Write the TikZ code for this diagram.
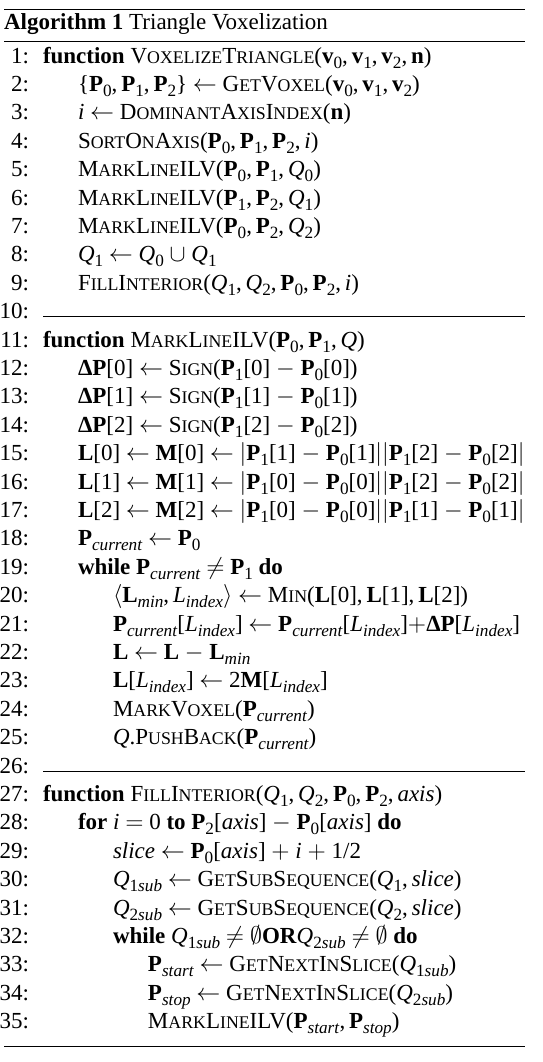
\documentclass[tikz,border=0pt]{standalone}
\usepackage{fontspec}
\setmainfont{Liberation Serif}
\newcommand\kw[1]{\textbf{#1}}
\newcommand\lc[1]{{\fontsize{8.9}{9}\selectfont #1}}
\newcommand\sbx[1]{\raisebox{-0.22em}{\fontsize{8.6}{8}\selectfont #1}}
\newcommand\BP[1]{\textbf{P}\sbx{#1}}
\newcommand\BPi[1]{\textbf{P}\sbx{\itshape #1\/}}
\newcommand\BV[1]{\textbf{v}\sbx{#1}}
\newcommand\Qs[1]{\textit{Q}\sbx{#1}}
\newcommand\Qi[1]{\textit{Q}\sbx{#1\itshape sub\/}}
\newcommand\cs{,\,}
\newcommand\la{ $\leftarrow$ }
\newcommand\mi{ $-$ }
\newcommand\Li{\textit{L}\sbx{\itshape index\/}}
\newcommand\MLI{M\lc{ARK}L\lc{INE}ILV}
\begin{document}
\begin{tikzpicture}[x=0.5pt,y=-0.5pt,
  every node/.style={inner sep=0pt,outer sep=0pt,font=\fontsize{11.5}{13.8}\selectfont},
  ln/.style={anchor=base east},
  code/.style={anchor=base west}]
\useasboundingbox (0,0) rectangle (542,1062);
% rules
\draw[line width=0.9pt] (4,9.5) -- (525,9.5);
\draw[line width=0.5pt] (4,41) -- (525,41);
\draw[line width=0.5pt] (4,1046) -- (525,1046);
\node[code] (title) at (4,29) {\textbf{Algorithm 1} Triangle Voxelization};
% line numbers
\foreach \n in {1,...,35}
  \node[ln] (n\n) at (29,{63+(\n-1)*28.4}) {\n:};
% separator rules
\draw[line width=0.5pt] (43,{63+9*28.4-2}) -- (525,{63+9*28.4-2});
\draw[line width=0.5pt] (43,{63+25*28.4-2}) -- (525,{63+25*28.4-2});
% code
\node[code] (c1) at (43,63) {\kw{function} V\lc{OXELIZE}T\lc{RIANGLE}(\BV{0}\cs\BV{1}\cs\BV{2}\cs\textbf{n})};
\node[code] (c2) at (78,91.4) {\{\BP{0}\cs\BP{1}\cs\BP{2}\}\la G\lc{ET}V\lc{OXEL}(\BV{0}\cs\BV{1}\cs\BV{2})};
\node[code] (c3) at (78,119.8) {\textit{i}\la D\lc{OMINANT}A\lc{XIS}I\lc{NDEX}(\textbf{n})};
\node[code] (c4) at (78,148.2) {S\lc{ORT}O\lc{N}A\lc{XIS}(\BP{0}\cs\BP{1}\cs\BP{2}\cs\textit{i})};
\node[code] (c5) at (78,176.6) {\MLI(\BP{0}\cs\BP{1}\cs\Qs{0})};
\node[code] (c6) at (78,205) {\MLI(\BP{1}\cs\BP{2}\cs\Qs{1})};
\node[code] (c7) at (78,233.4) {\MLI(\BP{0}\cs\BP{2}\cs\Qs{2})};
\node[code] (c8) at (78,261.8) {\Qs{1}\la\Qs{0} $\cup$ \Qs{1}};
\node[code] (c9) at (78,290.2) {F\lc{ILL}I\lc{NTERIOR}(\Qs{1}\cs\Qs{2}\cs\BP{0}\cs\BP{2}\cs\textit{i})};
\node[code] (c11) at (43,347) {\kw{function} \MLI(\BP{0}\cs\BP{1}\cs\textit{Q})};
\node[code] (c12) at (78,375.4) {\textbf{ΔP}[0]\la S\lc{IGN}(\BP{1}[0]\mi\BP{0}[0])};
\node[code] (c13) at (78,403.8) {\textbf{ΔP}[1]\la S\lc{IGN}(\BP{1}[1]\mi\BP{0}[1])};
\node[code] (c14) at (78,432.2) {\textbf{ΔP}[2]\la S\lc{IGN}(\BP{1}[2]\mi\BP{0}[2])};
\node[code] (c15) at (78,460.6) {\textbf{L}[0]\la\textbf{M}[0]\la$|$\BP{1}[1]\mi\BP{0}[1]$||$\BP{1}[2]\mi\BP{0}[2]$|$};
\node[code] (c16) at (78,489) {\textbf{L}[1]\la\textbf{M}[1]\la$|$\BP{1}[0]\mi\BP{0}[0]$||$\BP{1}[2]\mi\BP{0}[2]$|$};
\node[code] (c17) at (78,517.4) {\textbf{L}[2]\la\textbf{M}[2]\la$|$\BP{1}[0]\mi\BP{0}[0]$||$\BP{1}[1]\mi\BP{0}[1]$|$};
\node[code] (c18) at (78,545.8) {\BPi{current}\la\BP{0}};
\node[code] (c19) at (78,574.2) {\kw{while} \BPi{current} $\neq$ \BP{1} \kw{do}};
\node[code] (c20) at (113,602.6) {$\langle$\textbf{L}\sbx{\itshape min\/}\cs\Li$\rangle$\la M\lc{IN}(\textbf{L}[0]\cs\textbf{L}[1]\cs\textbf{L}[2])};
\node[code] (c21) at (113,631) {\BPi{current}[\Li]\la\BPi{current}[\Li]$+$\textbf{ΔP}[\Li]};
\node[code] (c22) at (113,659.4) {\textbf{L}\la\textbf{L}\mi\textbf{L}\sbx{\itshape min\/}};
\node[code] (c23) at (113,687.8) {\textbf{L}[\Li]\la 2\textbf{M}[\Li]};
\node[code] (c24) at (113,716.2) {M\lc{ARK}V\lc{OXEL}(\BPi{current})};
\node[code] (c25) at (113,744.6) {\textit{Q}.P\lc{USH}B\lc{ACK}(\BPi{current})};
\node[code] (c27) at (43,801.4) {\kw{function} F\lc{ILL}I\lc{NTERIOR}(\Qs{1}\cs\Qs{2}\cs\BP{0}\cs\BP{2}\cs\textit{axis\/})};
\node[code] (c28) at (78,829.8) {\kw{for} \textit{i} $=$ 0 \kw{to} \BP{2}[\textit{axis\/}]\mi\BP{0}[\textit{axis\/}] \kw{do}};
\node[code] (c29) at (113,858.2) {\textit{slice}\la\BP{0}[\textit{axis\/}] $+$ \textit{i} $+$ 1/2};
\node[code] (c30) at (113,886.6) {\Qi{1}\la G\lc{ET}S\lc{UB}S\lc{EQUENCE}(\Qs{1}\cs\textit{slice\/})};
\node[code] (c31) at (113,915) {\Qi{2}\la G\lc{ET}S\lc{UB}S\lc{EQUENCE}(\Qs{2}\cs\textit{slice\/})};
\node[code] (c32) at (113,943.4) {\kw{while} \Qi{1} $\neq$ $\emptyset$\kw{OR}\Qi{2} $\neq$ $\emptyset$ \kw{do}};
\node[code] (c33) at (148,971.8) {\BPi{start}\la G\lc{ET}N\lc{EXT}I\lc{N}S\lc{LICE}(\Qi{1})};
\node[code] (c34) at (148,1000.2) {\BPi{stop}\la G\lc{ET}N\lc{EXT}I\lc{N}S\lc{LICE}(\Qi{2})};
\node[code] (c35) at (148,1028.6) {\MLI(\BPi{start}\cs\BPi{stop})};
\end{tikzpicture}
\end{document}
